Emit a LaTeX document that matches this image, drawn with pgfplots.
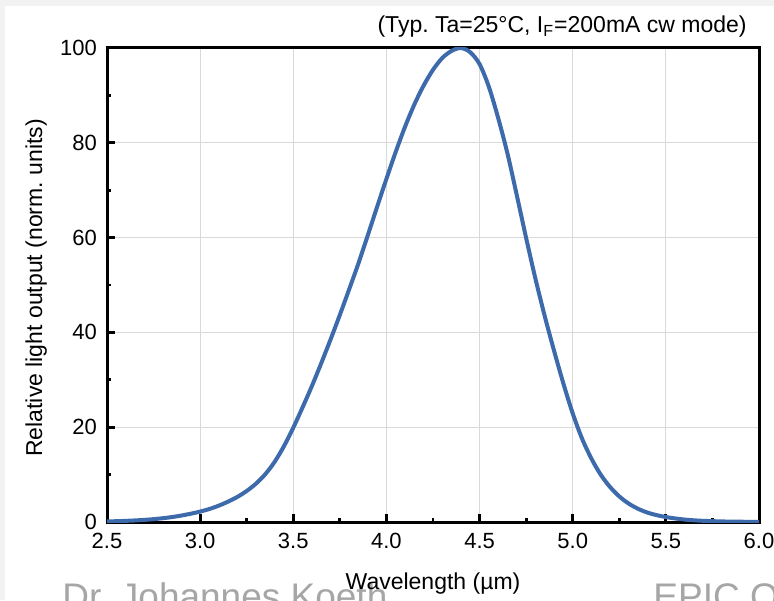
\documentclass[border=0pt]{standalone}
\usepackage{pgfplots}
\pgfplotsset{compat=1.18}
\usepackage{fontspec}
\setmainfont{Liberation Sans}
\frenchspacing
\definecolor{curveblue}{RGB}{61,106,170}
\definecolor{gridgray}{RGB}{217,217,217}
\definecolor{graytxt}{RGB}{166,166,166}
\definecolor{stripgray}{RGB}{242,242,242}
\begin{document}
\begin{tikzpicture}[x=0.5pt,y=0.5pt]
\fill[stripgray] (0,0) rectangle (774,600);
\fill[white] (5,0) rectangle (774,594);
\useasboundingbox (0,0) rectangle (774,600);
\node[anchor=base west, inner sep=0, text=graytxt, font=\fontsize{18.5}{20}\selectfont] at (62,-9.5) {Dr. Johannes Koeth};
\node[anchor=base west, inner sep=0, text=graytxt, font=\fontsize{18.5}{20}\selectfont] at (653,-9.5) {EPIC Optoelectronics};
\begin{axis}[
  at={(53.5pt,39pt)}, anchor=south west,
  scale only axis, width=326pt, height=237pt,
  xmin=2.5, xmax=6, ymin=0, ymax=100,
  xtick={2.5,3.0,3.5,4.0,4.5,5.0,5.5,6.0},
  ytick={0,20,40,60,80,100},
  minor x tick num=1, minor y tick num=1,
  tick align=inside, tick pos=left,
  major tick length=4pt, minor tick length=2pt,
  every tick/.style={black, line width=1.4pt},
  grid=major,
  major grid style={gridgray, line width=0.5pt},
  axis line style={black, line width=1.5pt},
  /pgf/number format/assume math mode=true,
  tick label style={font=\fontsize{11}{12}\selectfont, black},
  xticklabel style={yshift=-2pt, /pgf/number format/fixed, /pgf/number format/fixed zerofill, /pgf/number format/precision=1},
  yticklabel style={xshift=-1.5pt},
]
\addplot[curveblue, line width=2pt, smooth] table {
x y
2.5 0.12
2.55 0.17
2.6 0.24
2.65 0.33
2.7 0.45
2.75 0.6
2.8 0.8
2.85 1.05
2.9 1.37
2.95 1.75
3.0 2.2
3.05 2.75
3.1 3.45
3.15 4.3
3.2 5.3
3.25 6.55
3.3 8.1
3.35 10.1
3.4 12.7
3.45 16.0
3.5 19.9
3.55 24.2
3.6 28.7
3.65 33.5
3.7 38.5
3.75 43.7
3.8 49.1
3.85 54.6
3.9 60.5
3.95 66.5
4.0 72.4
4.05 78.1
4.1 83.4
4.15 88.1
4.2 92.1
4.25 95.4
4.3 97.9
4.35 99.4
4.4 100
4.45 99.1
4.5 96.6
4.55 91.8
4.6 85.2
4.65 77.7
4.7 68.9
4.75 59.9
4.8 51.3
4.85 43.4
4.9 36.1
4.95 29.2
5.0 22.9
5.05 17.6
5.1 13.4
5.15 10.0
5.2 7.4
5.25 5.4
5.3 3.9
5.35 2.8
5.4 2.0
5.45 1.45
5.5 1.05
5.55 0.75
5.6 0.52
5.65 0.36
5.7 0.25
5.8 0.12
5.9 0.06
6.0 0.03
};
\end{axis}
\node[anchor=base east, inner sep=0, font=\fontsize{11.5}{12}\selectfont] at (747,567) {(Typ. Ta=25°C, I\textsubscript{F}=200mA cw mode)};
\node[anchor=base, inner sep=0, font=\fontsize{11.5}{12}\selectfont] at (433,11) {Wavelength (µm)};
\node[anchor=base, rotate=90, inner sep=0, font=\fontsize{11.5}{12}\selectfont] at (42,312) {Relative light output (norm. units)};
\end{tikzpicture}
\end{document}
